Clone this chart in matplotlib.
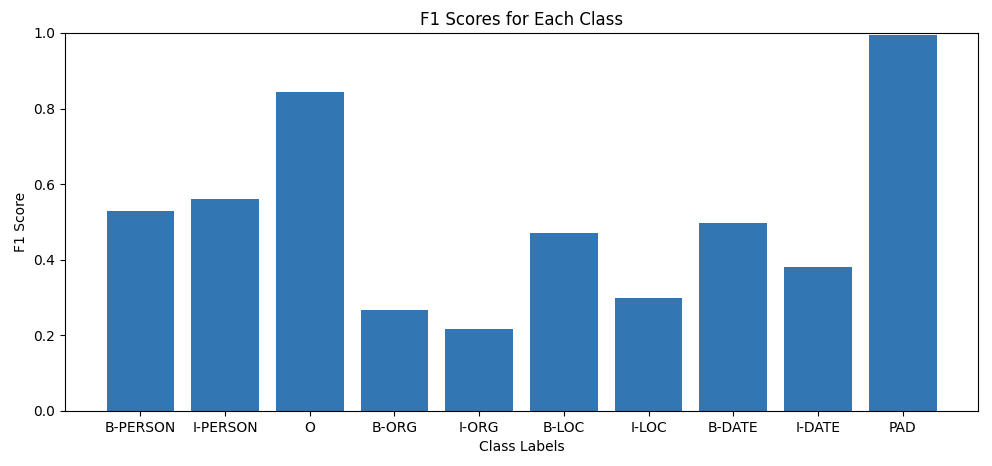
import numpy as np
import matplotlib
matplotlib.use("Agg")
import matplotlib.pyplot as plt

labels = ['B-PERSON', 'I-PERSON', 'O', 'B-ORG', 'I-ORG', 'B-LOC', 'I-LOC', 'B-DATE', 'I-DATE', 'PAD']
f1 = [0.529, 0.561, 0.845, 0.268, 0.216, 0.471, 0.300, 0.497, 0.380, 0.994]

fig = plt.figure(figsize=(9.92, 4.66), dpi=100)
ax = fig.add_axes([65/992, 1-411/466, (978-65)/992, (411-33)/466])
ax.bar(labels, f1, color='#3277b3')
ax.set_ylim(0, 1.0)
ax.set_xlabel('Class Labels')
ax.set_ylabel('F1 Score')
ax.set_title('F1 Scores for Each Class')
fig.savefig('out.png', dpi=100)
